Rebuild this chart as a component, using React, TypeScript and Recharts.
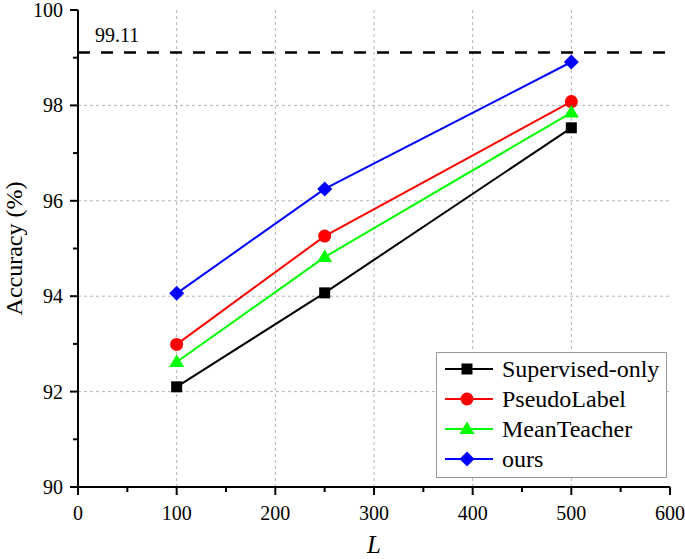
import React from "react";
import {
  LineChart,
  Line,
  XAxis,
  YAxis,
  CartesianGrid,
  ReferenceLine,
  Legend,
} from "recharts";

// values
const labelCounts = [100, 250, 500];
const supervisedOnly = [92.1, 94.07, 97.53];
const pseudoLabel = [92.99, 95.26, 98.08];
const meanTeacher = [92.62, 94.82, 97.85];
const ours = [94.06, 96.25, 98.91];
const fullySupervised = 99.11;

const xTicks = [0, 50, 100, 150, 200, 250, 300, 350, 400, 450, 500, 550, 600];
const yTicks = [90, 91, 92, 93, 94, 95, 96, 97, 98, 99, 100];
const xGrid = [100, 200, 300, 400, 500];
const yGrid = [92, 94, 96, 98];

const FONT = "'Liberation Serif', 'Times New Roman', serif";

const series = [
  { key: "sup", name: "Supervised-only", color: "#000000", shape: "square", values: supervisedOnly },
  { key: "pl", name: "PseudoLabel", color: "#ff0000", shape: "circle", values: pseudoLabel },
  { key: "mt", name: "MeanTeacher", color: "#00ff00", shape: "triangle", values: meanTeacher },
  { key: "ours", name: "ours", color: "#0000ff", shape: "diamond", values: ours },
];

const data = labelCounts.map((L, i) => {
  const row: any = { L };
  series.forEach(s => (row[s.key] = s.values[i]));
  return row;
});

function Marker({ shape, cx, cy, color }) {
  if (cx == null || cy == null) return null;
  if (shape === "square") {
    return <rect x={cx - 5.5} y={cy - 5.5} width={11} height={11} fill={color} />;
  }
  if (shape === "circle") {
    return <circle cx={cx} cy={cy} r={6.5} fill={color} />;
  }
  if (shape === "triangle") {
    return (
      <polygon points={`${cx},${cy - 7.5} ${cx + 7.5},${cy + 5} ${cx - 7.5},${cy + 5}`} fill={color} />
    );
  }
  return (
    <polygon points={`${cx},${cy - 7.5} ${cx + 7.5},${cy} ${cx},${cy + 7.5} ${cx - 7.5},${cy}`} fill={color} />
  );
}

const YTick = props => {
  const { x, y, payload } = props;
  const major = payload.value % 2 === 0;
  return (
    <g>
      <line x1={x - (major ? 8 : 5)} x2={x} y1={y} y2={y} stroke="#000" strokeWidth={2} />
      {major && (
        <text x={x - 15} y={y} dy="0.35em" textAnchor="end" fontSize={20} fontFamily={FONT} fill="#000">
          {payload.value}
        </text>
      )}
    </g>
  );
};

const XTick = props => {
  const { x, y, payload } = props;
  const major = payload.value % 100 === 0;
  return (
    <g>
      <line x1={x} x2={x} y1={y} y2={y + (major ? 8 : 5)} stroke="#000" strokeWidth={2} />
      {major && (
        <text x={x} y={y + 26} dy="0.35em" textAnchor="middle" fontSize={20} fontFamily={FONT} fill="#000">
          {payload.value}
        </text>
      )}
    </g>
  );
};

const RefLabel = props => {
  const { viewBox } = props;
  return (
    <text x={viewBox.x + 17} y={viewBox.y - 10} fontSize={20} fontFamily={FONT} fill="#000">
      {fullySupervised}
    </text>
  );
};

const renderLegend = () => (
  <svg width={231} height={126} style={{ display: "block" }}>
    <rect x={0.5} y={0.5} width={230} height={125} fill="#fff" stroke="#999" />
    {series.map((s, i) => {
      const cy = 17 + i * 30;
      return (
        <g key={s.key}>
          <line x1={9} x2={57} y1={cy} y2={cy} stroke={s.color} strokeWidth={2} />
          <Marker shape={s.shape} cx={31} cy={cy} color={s.color} />
          <text x={66} y={cy} dy="0.35em" fontSize={24} fontFamily={FONT} fill="#000">
            {s.name}
          </text>
        </g>
      );
    })}
  </svg>
);

export default function App() {
  return (
    <div style={{ position: "absolute", left: 0, top: 0, width: 685, height: 559, background: "#fff" }}>
      <LineChart width={685} height={559} data={data} margin={{ top: 10, right: 15, bottom: 0, left: 0 }}>
        <CartesianGrid
          stroke="#b4b4b4"
          strokeDasharray="3 3"
          horizontalValues={yGrid}
          verticalValues={xGrid}
        />
        <XAxis
          dataKey="L"
          type="number"
          domain={[0, 600]}
          ticks={xTicks}
          interval={0}
          height={72}
          tickSize={0}
          tickMargin={0}
          tickLine={false}
          tick={<XTick />}
          axisLine={{ stroke: "#000", strokeWidth: 2 }}
          label={({ viewBox }) => (
            <text
              x={viewBox.x + viewBox.width / 2}
              y={viewBox.y + 66}
              textAnchor="middle"
              fontSize={25}
              fontStyle="italic"
              fontFamily={FONT}
              fill="#000"
            >
              L
            </text>
          )}
        />
        <YAxis
          type="number"
          domain={[90, 100]}
          ticks={yTicks}
          interval={0}
          width={78}
          tickSize={0}
          tickMargin={0}
          tickLine={false}
          tick={<YTick />}
          axisLine={{ stroke: "#000", strokeWidth: 2 }}
          label={({ viewBox }) => {
            const cx = 14;
            const cy = viewBox.y + viewBox.height / 2;
            return (
              <text
                x={cx}
                y={cy}
                dy="0.35em"
                transform={`rotate(-90, ${cx}, ${cy})`}
                textAnchor="middle"
                fontSize={24}
                fontFamily={FONT}
                fill="#000"
              >
                Accuracy (%)
              </text>
            );
          }}
        />
        <ReferenceLine
          y={fullySupervised}
          stroke="#000"
          strokeWidth={2.5}
          strokeDasharray="12 11"
          label={<RefLabel />}
        />
        {series.map(s => (
          <Line
            key={s.key}
            type="linear"
            dataKey={s.key}
            name={s.name}
            stroke={s.color}
            strokeWidth={2}
            isAnimationActive={false}
            dot={p => (
              <Marker key={`${s.key}-${p.index}`} shape={s.shape} cx={p.cx} cy={p.cy} color={s.color} />
            )}
            activeDot={false}
          />
        ))}
        <Legend
          layout="vertical"
          align="center"
          verticalAlign="middle"
          content={renderLegend}
          wrapperStyle={{ position: "absolute", left: 436, top: 352, width: 231, height: 126 }}
        />
      </LineChart>
    </div>
  );
}
